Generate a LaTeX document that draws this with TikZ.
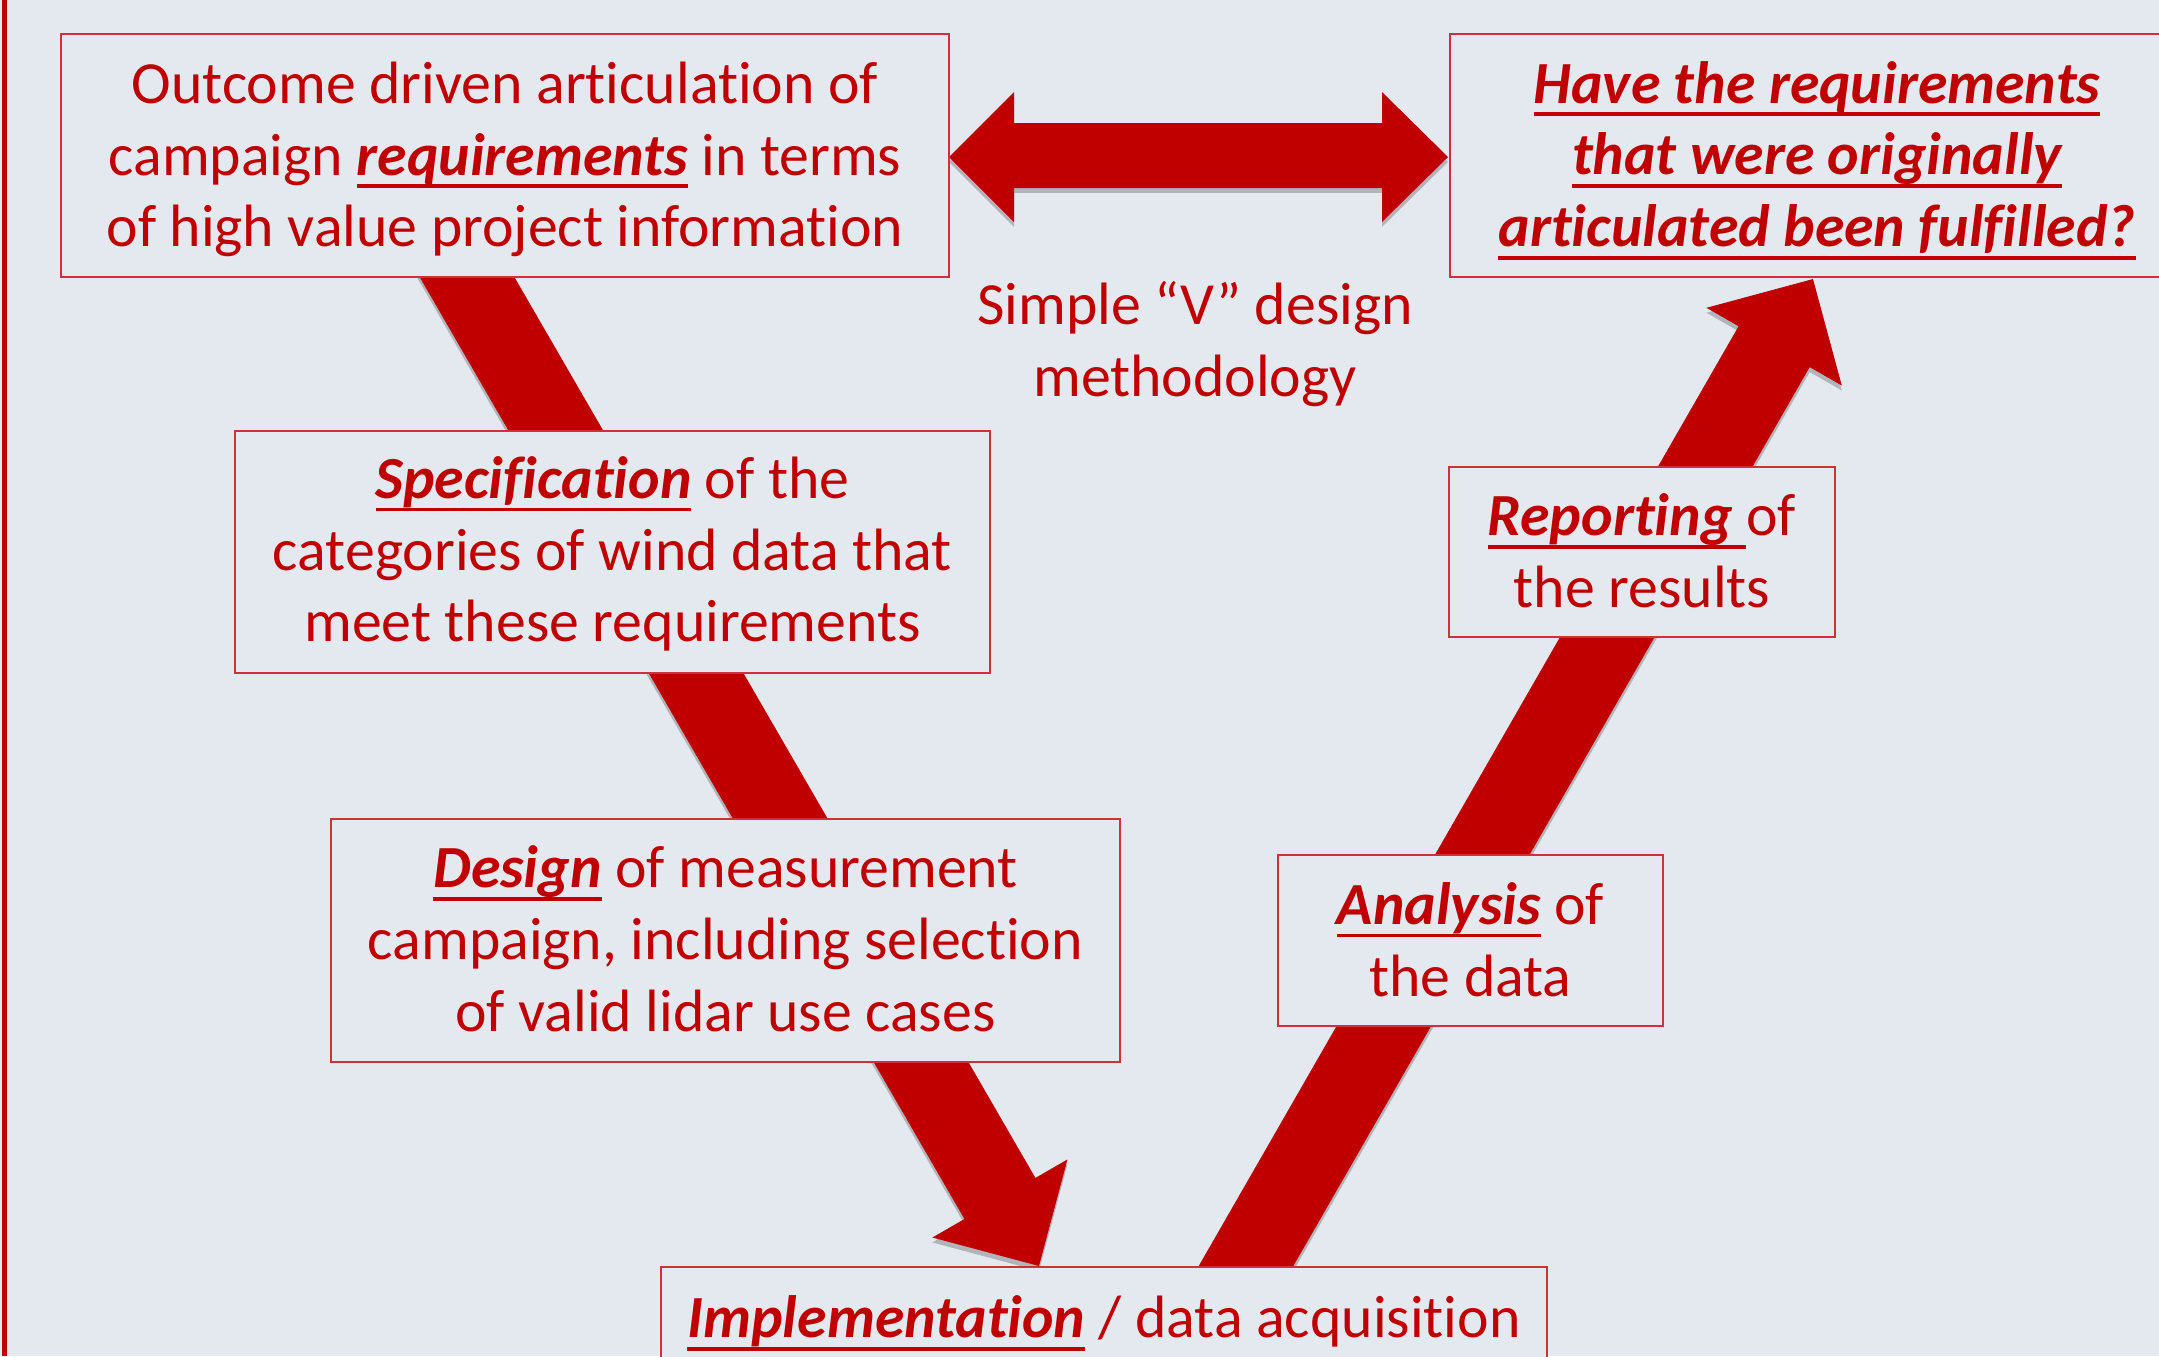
\documentclass[tikz,border=0pt]{standalone}
\usepackage{fontspec}
\setmainfont{Carlito}[Ligatures={NoCommon}]
\usetikzlibrary{calc}
\definecolor{bgc}{RGB}{228,232,239}
\definecolor{vred}{RGB}{192,0,0}
\definecolor{boxred}{RGB}{208,48,58}
\newcommand{\keyw}[1]{{\bfseries\itshape\setbox0\hbox{#1}\rlap{\rule[-3.7pt]{\wd0}{1.1pt}}\box0}}
\newcommand{\fatarrow}[3]{%
  \coordinate (#1b) at ($(#2)!0.78cm!(#1)$);
  \fill[#3] ($(#1)!0.41cm!90:(#2)$) -- ($(#1b)!0.41cm!90:(#2)$) -- ($(#1b)!0.78cm!90:(#2)$) -- (#2)
    -- ($(#1b)!0.78cm!-90:(#2)$) -- ($(#1b)!0.41cm!-90:(#2)$) -- ($(#1)!0.41cm!-90:(#2)$) -- cycle;
}
\begin{document}
\begin{tikzpicture}[x=0.01cm,y=-0.01cm,
  txt/.style={inner sep=0pt, align=center, text=vred, font={\fontsize{17pt}{20.4pt}\selectfont}},
  box/.style={draw=boxred, line width=0.7pt, fill=bgc, inner sep=0pt},
  arrowfill/.style={fill=vred},
  shadowfill/.style={fill=black, opacity=0.22, transform canvas={yshift=-1.4pt}}
]
\useasboundingbox (0,0) rectangle (2159,1356);
\fill[bgc] (0,0) rectangle (2159,1356);
\begin{scope}
\clip (0,0) rectangle (2159,1356);
\fill[vred] (2,0) rectangle (7,1356);

% coordinates of the V arrows
\coordinate (ls) at (445.6,240);
\coordinate (lt) at (1039,1266);
\coordinate (rs) at (1215,1320);
\coordinate (rt) at (1813,279);
\coordinate (dl) at (949,157);
\coordinate (dr) at (1448,157);

% shadows
\fatarrow{ls}{lt}{shadowfill}
\fatarrow{rs}{rt}{shadowfill}
\fill[shadowfill] (dl) -- ($(dl)+(65,-65)$) -- ($(dl)+(65,-34)$) -- ($(dr)+(-66,-34)$) -- ($(dr)+(-66,-65)$) -- (dr)
  -- ($(dr)+(-66,65)$) -- ($(dr)+(-66,31)$) -- ($(dl)+(65,31)$) -- ($(dl)+(65,65)$) -- cycle;

% arrows
\fatarrow{ls}{lt}{arrowfill}
\fatarrow{rs}{rt}{arrowfill}
\fill[arrowfill] (dl) -- ($(dl)+(65,-65)$) -- ($(dl)+(65,-34)$) -- ($(dr)+(-66,-34)$) -- ($(dr)+(-66,-65)$) -- (dr)
  -- ($(dr)+(-66,65)$) -- ($(dr)+(-66,31)$) -- ($(dl)+(65,31)$) -- ($(dl)+(65,65)$) -- cycle;

% boxes
\node[box, minimum width=8.88cm, minimum height=2.43cm] (outc) at (505,155.5) {};
\node[box, minimum width=7.55cm, minimum height=2.42cm] (spec) at (612.5,552) {};
\node[box, minimum width=7.34cm, minimum height=2.43cm] (have) at (1817,155.5) {};
\node[box, minimum width=3.86cm, minimum height=1.70cm] (report) at (1642,552) {};
\node[box, minimum width=7.89cm, minimum height=2.43cm] (design) at (725.5,940.5) {};
\node[box, minimum width=3.85cm, minimum height=1.71cm] (analysis) at (1470.5,940.5) {};
\node[box, minimum width=8.86cm, minimum height=1.06cm] (impl) at (1104,1320) {};

% texts of the boxes
\node[txt] (outc-t) at ($(outc.center)+(0,4)$)
  {Outcome driven articulation of\\ campaign \keyw{requirements} in terms\\ of high value project information};
\node[txt] (spec-t) at ($(spec.center)+(0,2)$)
  {\keyw{Specification} of the\\ categories of wind data that\\ meet these requirements};
\node[txt] (have-t) at ($(have.center)+(0,5)$)
  {\keyw{Have the requirements}\\ \keyw{that were originally}\\ \keyw{articulated been fulfilled?}};
\node[txt] (report-t) at ($(report.center)+(0,-1)$)
  {\keyw{Reporting\kern0.23em}of\\ the results};
\node[txt] (design-t) at ($(design.center)+(0,-2)$)
  {\keyw{Design} of measurement\\ campaign, including selection\\ of valid lidar use cases};
\node[txt] (analysis-t) at ($(analysis.center)+(0,-1)$)
  {\keyw{Analysis} of\\ the data};
\node[txt] (impl-t) at ($(impl.center)+(0,3)$)
  {\keyw{Implementation} / data acquisition};

\node[txt] (vtxt) at (1195,344) {Simple “V” design\\ methodology};
\end{scope}
\end{tikzpicture}
\end{document}
